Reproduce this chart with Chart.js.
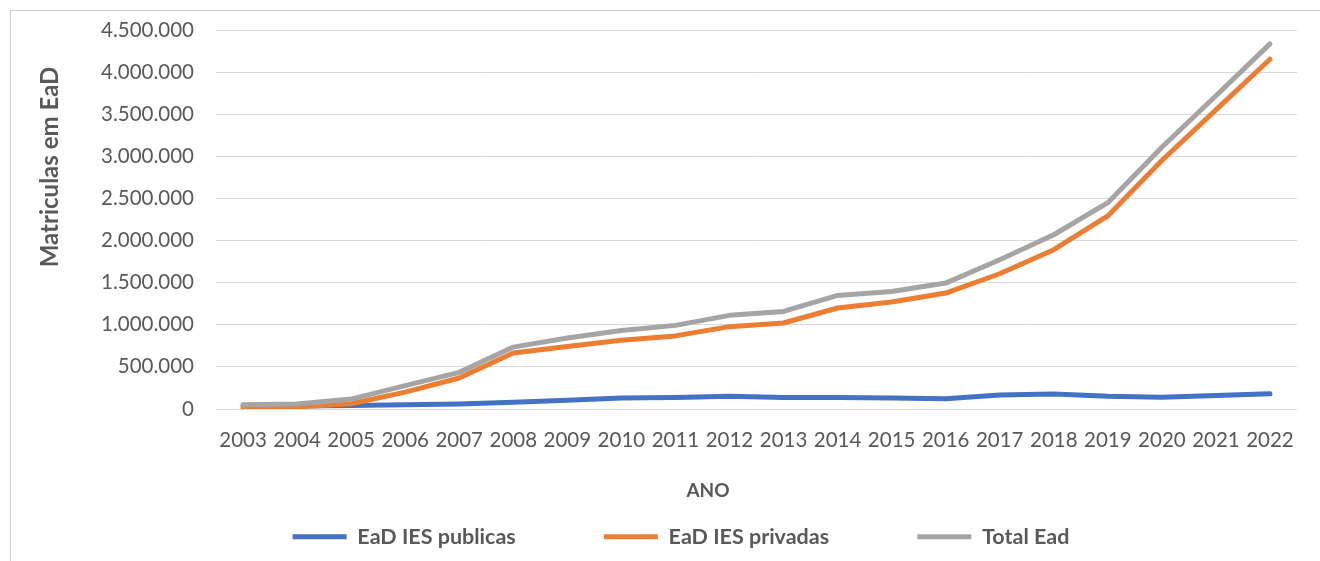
<!DOCTYPE html>
<html>
<head>
<meta charset="utf-8">
<script src="https://cdn.jsdelivr.net/npm/chart.js@4.4.1/dist/chart.umd.min.js"></script>
<style>
  html, body { margin: 0; padding: 0; background: #fff; overflow: hidden; }
  #frame { position: absolute; left: 10px; top: 10px; width: 1400px; height: 700px;
           border-left: 1px solid #d0d0d0; border-top: 1px solid #d0d0d0; }
  #chart { position: absolute; left: 0; top: 0; }
</style>
</head>
<body>
<div id="frame"></div>
<canvas id="chart" width="1320" height="561"></canvas>
<script>
const years = ['2003', '2004', '2005', '2006', '2007', '2008', '2009', '2010', '2011', '2012',
               '2013', '2014', '2015', '2016', '2017', '2018', '2019', '2020', '2021', '2022'];

const eadPublicas = [38000, 35000, 43000, 51000, 59000, 79000, 103000, 130000, 138000, 150000,
                     138000, 138000, 130000, 123000, 166000, 178000, 150000, 140000, 160000, 180000];

const eadPrivadas = [12000, 24000, 62000, 200000, 368000, 664000, 743000, 816000, 868000, 978000,
                     1021000, 1199000, 1270000, 1377000, 1606000, 1891000, 2292000, 2950000, 3552000, 4153000];

const totalEad = [50000, 60000, 118000, 277000, 435000, 735000, 842000, 933000, 993000, 1112000,
                  1159000, 1349000, 1396000, 1495000, 1772000, 2069000, 2450000, 3108000, 3720000, 4335000];

const seriesNames = ['EaD IES publicas', 'EaD IES privadas', 'Total Ead'];
const xTitle = 'ANO';
const yTitle = 'Matriculas em EaD';

const textColor = '#595959';
const fontName = 'Lato, "Open Sans", sans-serif';

// pt-BR style thousands separator
function fmt(v) {
    return String(v).replace(/\B(?=(\d{3})+(?!\d))/g, '.');
}

function line(label, data, color, order) {
    return {
        label: label,
        data: data,
        borderColor: color,
        backgroundColor: color,
        borderWidth: 5,
        pointRadius: 0,
        pointHoverRadius: 0,
        tension: 0,
        borderCapStyle: 'round',
        borderJoinStyle: 'round',
        order: order
    };
}

// axis titles drawn by hand so they sit where the original has them
const axisTitles = {
    id: 'axisTitles',
    afterDraw(chart) {
        const ctx = chart.ctx;
        ctx.save();
        ctx.fillStyle = textColor;
        ctx.textAlign = 'center';
        ctx.textBaseline = 'middle';
        ctx.font = 'bold 19px ' + fontName;
        ctx.fillText(xTitle, 708, 491);
        ctx.translate(50, 167);
        ctx.rotate(-Math.PI / 2);
        ctx.font = 'bold 24px ' + fontName;
        ctx.fillText(yTitle, 0, 0);
        ctx.restore();
    }
};

const ctx = document.getElementById('chart').getContext('2d');

new Chart(ctx, {
    type: 'line',
    data: {
        labels: years,
        datasets: [
            line(seriesNames[0], eadPublicas, '#4472C4', 3),
            line(seriesNames[1], eadPrivadas, '#ED7D31', 2),
            line(seriesNames[2], totalEad, '#A5A5A5', 1)
        ]
    },
    options: {
        responsive: false,
        animation: false,
        layout: { padding: { left: 65, right: 23, top: 30, bottom: 3.5 } },
        plugins: {
            tooltip: { enabled: false },
            legend: {
                position: 'bottom',
                labels: {
                    usePointStyle: true,
                    pointStyle: 'line',
                    pointStyleWidth: 54,
                    padding: 72,
                    color: textColor,
                    font: { family: fontName, size: 21.5, weight: 'bold' },
                    // keep dataset order, widen the gap after the first two entries
                    generateLabels: (chart) => {
                        const items = Chart.defaults.plugins.legend.labels.generateLabels(chart);
                        items.sort((a, b) => a.datasetIndex - b.datasetIndex);
                        items.forEach((it, i) => { if (i < items.length - 1) it.text += '\u2003'; });
                        return items;
                    }
                }
            }
        },
        scales: {
            x: {
                offset: true,
                grid: { display: false, drawTicks: false },
                border: { display: false },
                ticks: {
                    color: textColor,
                    padding: 19,
                    maxRotation: 0,
                    autoSkip: false,
                    font: { family: fontName, size: 20.5 }
                },
                afterFit: (s) => { s.height = 45; }
            },
            y: {
                min: 0,
                max: 4500000,
                // invisible tick marks give the label gap without adding top padding
                grid: { color: '#d9d9d9', lineWidth: 1, drawTicks: true, tickLength: 22, tickColor: 'rgba(0,0,0,0)' },
                border: { display: false },
                ticks: {
                    stepSize: 500000,
                    color: textColor,
                    padding: 0,
                    font: { family: fontName, size: 20.5 },
                    callback: (v) => fmt(v)
                },
                afterFit: (s) => { s.width = 151; }
            }
        }
    },
    plugins: [axisTitles]
});
</script>
</body>
</html>
